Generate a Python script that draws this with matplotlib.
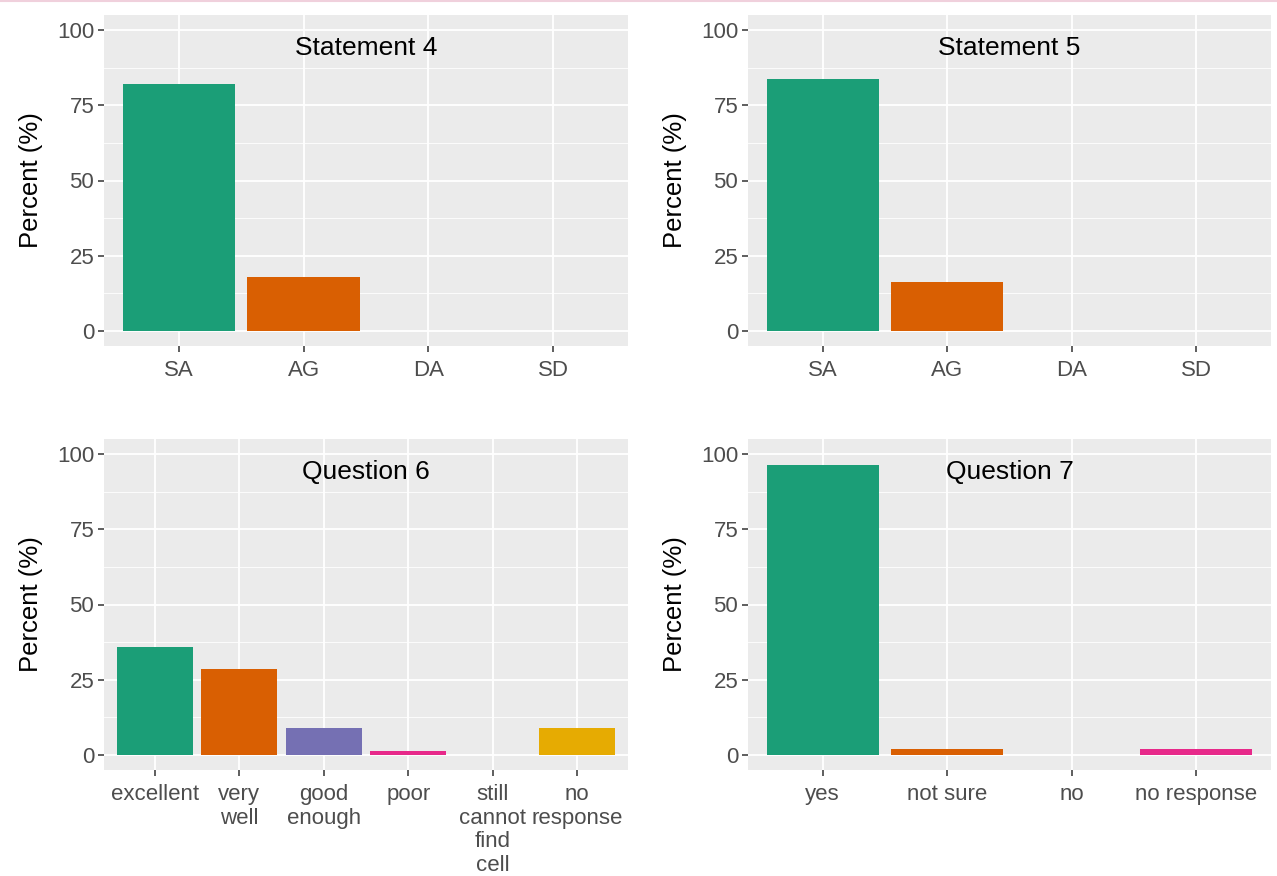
import matplotlib.pyplot as plt
from matplotlib.lines import Line2D
import numpy as np

plt.rcParams['font.family'] = ['Liberation Sans', 'DejaVu Sans']

# data
s4_labels = ['SA', 'AG', 'DA', 'SD']
s4_values = [82.1, 17.9, 0, 0]

s5_labels = ['SA', 'AG', 'DA', 'SD']
s5_values = [83.8, 16.2, 0, 0]

q6_labels = ['excellent', 'very\nwell', 'good\nenough', 'poor', 'still\ncannot\nfind\ncell', 'no\nresponse']
q6_values = [35.9, 28.6, 8.8, 1.3, 0, 8.8]

q7_labels = ['yes', 'not sure', 'no', 'no response']
q7_values = [96.2, 1.9, 0, 1.9]

# Dark2
dark2 = ['#1B9E77', '#D95F02', '#7570B3', '#E7298A', '#66A61E', '#E6AB02']

W, H = 1277, 876
fig = plt.figure(figsize=(W / 100, H / 100), dpi=100)


def panel(rect_px, labels, values, title):
    x0, y0, x1, y1 = rect_px
    ax = fig.add_axes([x0 / W, 1 - y1 / H, (x1 - x0) / W, (y1 - y0) / H])
    n = len(labels)
    x = np.arange(n)
    ax.set_facecolor('#EBEBEB')
    ax.bar(x, values, width=0.9, color=dark2[:n], zorder=3)
    ax.set_xlim(-0.6, n - 0.4)
    ax.set_ylim(-5, 105)
    ax.set_yticks([0, 25, 50, 75, 100])
    ax.set_yticks([12.5, 37.5, 62.5, 87.5], minor=True)
    ax.set_xticks(x)
    ax.set_xticklabels(labels, linespacing=1.17)
    ax.grid(which='major', color='white', linewidth=1.3, zorder=1)
    ax.grid(which='minor', axis='y', color='white', linewidth=0.6, zorder=1)
    for s in ax.spines.values():
        s.set_visible(False)
    ax.tick_params(which='major', length=4, width=1.1, color='#333333',
                   labelsize=16, labelcolor='#4D4D4D')
    ax.tick_params(axis='x', pad=6)
    ax.tick_params(axis='y', pad=3)
    ax.tick_params(which='minor', length=0)
    ax.set_ylabel('Percent (%)', fontsize=18.5, labelpad=10)
    ax.text(0.5, 0.90, title, transform=ax.transAxes, ha='center', va='center',
            fontsize=19, color='black')
    return ax


panel((104, 15, 628, 346), s4_labels, s4_values, 'Statement 4')
panel((748, 15, 1271, 346), s5_labels, s5_values, 'Statement 5')
panel((104, 439, 628, 770), q6_labels, q6_values, 'Question 6')
panel((748, 439, 1271, 770), q7_labels, q7_values, 'Question 7')

# thin pinkish border line at the very top
fig.add_artist(Line2D([0, 1], [0.999, 0.999], transform=fig.transFigure,
                      color='#F0D0DC', linewidth=1.5))

fig.savefig('out.png', dpi=100)
